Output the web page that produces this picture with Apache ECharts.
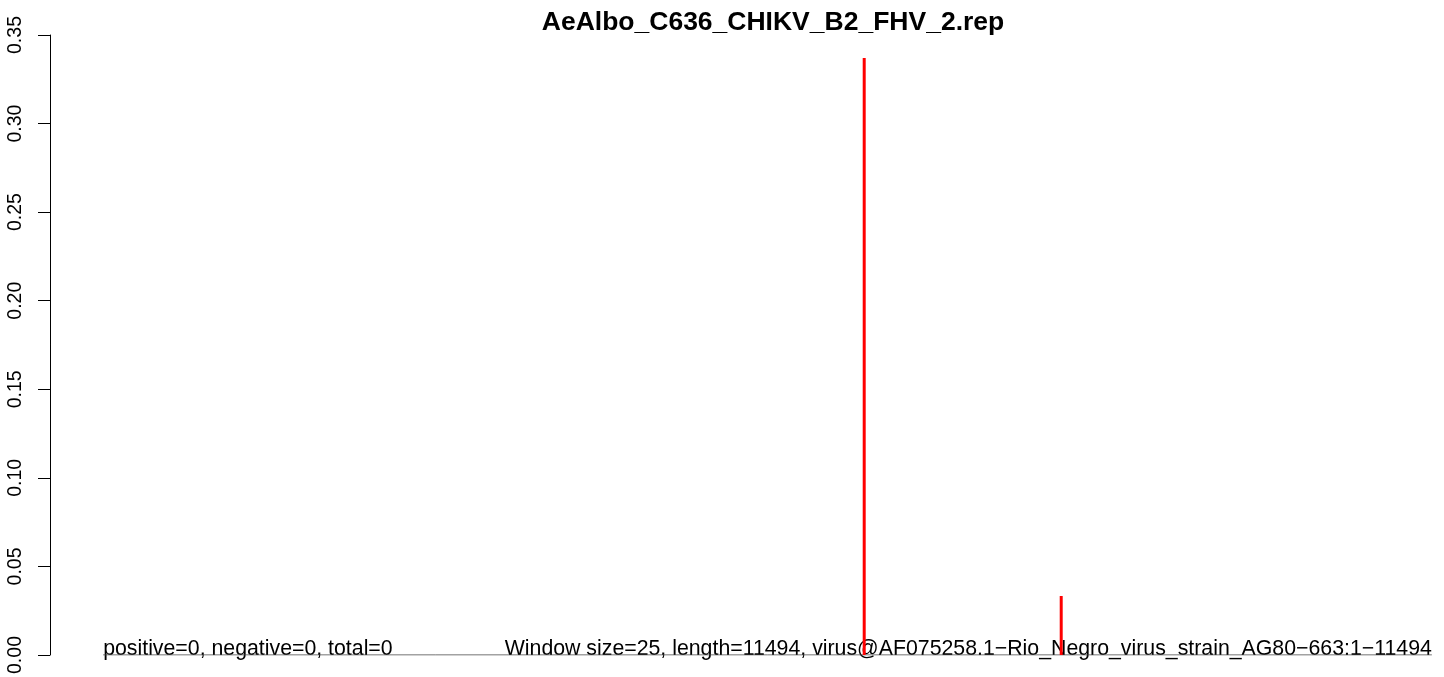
<!DOCTYPE html>
<html>
<head>
    <meta charset="UTF-8">
    <title>AeAlbo_C636_CHIKV_B2_FHV_2.rep</title>
    <script src="https://cdn.jsdelivr.net/npm/echarts@6/dist/echarts.min.js"></script>
    <style>
        html, body { margin: 0; padding: 0; background: #fff; }
        #chart { width: 1444px; height: 677px; }
    </style>
</head>
<body>
<div id="chart"></div>
<script>
    // data
    var seqRange = [1, 11494];            // genome span drawn as the baseline
    var peakPos = [6584, 8288];           // window positions with signal
    var peakVal = [0.337, 0.0333];        // their values
    var yTicks = [0, 0.05, 0.10, 0.15, 0.20, 0.25, 0.30, 0.35];
    var titleText = 'AeAlbo_C636_CHIKV_B2_FHV_2.rep';
    var statText = 'positive=0, negative=0, total=0';
    var infoText = 'Window size=25, length=11494, virus@AF075258.1\u2212Rio_Negro_virus_strain_AG80\u2212663:1\u221211494';

    var FONT = '"Liberation Sans", Arial, Helvetica, sans-serif';
    // R style axis padding of 4% on each side
    var pad = (seqRange[1] - seqRange[0]) * 0.04;

    var peaks = [];
    for (var i = 0; i < peakPos.length; i++) {
        peaks.push([peakPos[i], peakVal[i]]);
    }

    var myChart = echarts.init(document.getElementById('chart'), null, {renderer: 'canvas'});
    var option = {
        animation: false,
        backgroundColor: '#fff',
        title: {
            text: titleText,
            left: 768,
            textAlign: 'center',
            top: 4,
            textStyle: {fontFamily: FONT, fontWeight: 'bold', fontSize: 26.5, color: '#000'}
        },
        // plot region runs past the right edge of the picture, as in the original
        grid: {left: 50, top: 35, width: 1435, height: 620, outerBoundsMode: 'none', containLabel: false},
        xAxis: {
            type: 'value',
            min: seqRange[0] - pad,
            max: seqRange[1] + pad,
            show: false
        },
        yAxis: {
            type: 'value',
            min: yTicks[0],
            max: yTicks[yTicks.length - 1],
            interval: 0.05,
            axisLine: {show: true, onZero: false, lineStyle: {color: '#000', width: 1}},
            axisTick: {show: true, length: 12, lineStyle: {color: '#000', width: 1}},
            splitLine: {show: false},
            axisLabel: {
                rotate: 90,
                margin: 24,
                fontFamily: FONT,
                fontSize: 19.5,
                color: '#000',
                formatter: function (v) { return v.toFixed(2); }
            }
        },
        series: [{
            // baseline over the whole sequence
            type: 'line',
            data: [[seqRange[0], 0], [seqRange[1], 0]],
            symbol: 'none',
            silent: true,
            z: 1,
            lineStyle: {color: '#444', width: 1}
        }, {
            type: 'bar',
            data: peaks,
            barWidth: 3,
            z: 5,
            itemStyle: {color: '#ff0000'}
        }]
    };
    myChart.setOption(option);

    // the two notes sit on the baseline, at the ends of the sequence
    var p0 = myChart.convertToPixel({gridIndex: 0}, [seqRange[0], 0]);
    var p1 = myChart.convertToPixel({gridIndex: 0}, [seqRange[1], 0]);
    myChart.setOption({
        graphic: [{
            type: 'text',
            z: 0,
            x: p0[0],
            y: p0[1] + 5,
            style: {text: statText, font: '21.3px ' + FONT, fill: '#000', align: 'left', verticalAlign: 'bottom'}
        }, {
            type: 'text',
            z: 0,
            x: p1[0],
            y: p1[1] + 5,
            style: {text: infoText, font: '21.3px ' + FONT, fill: '#000', align: 'right', verticalAlign: 'bottom'}
        }]
    });
</script>
</body>
</html>
